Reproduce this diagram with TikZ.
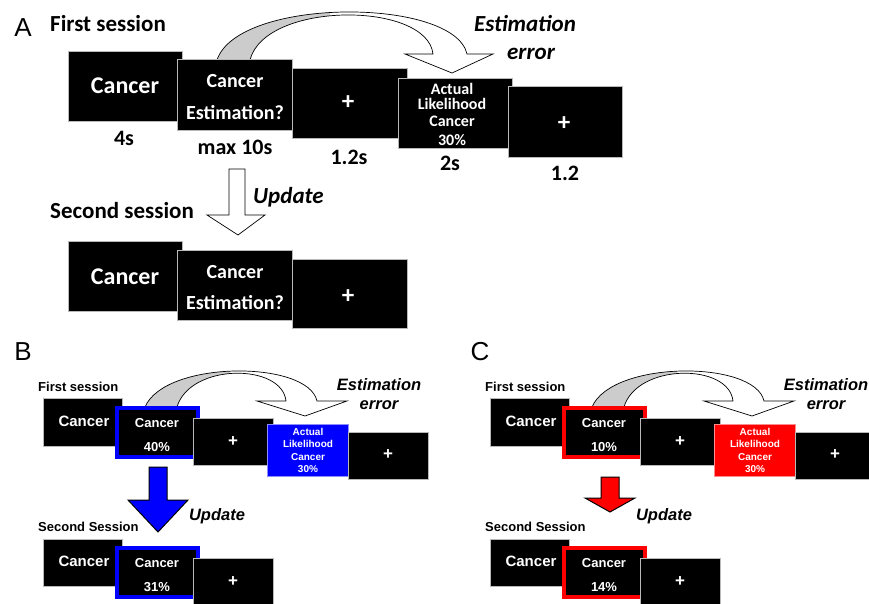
\documentclass[tikz,border=0pt]{standalone}
\usepackage{fontspec}
\setmainfont{Carlito}
\newfontfamily\arialf{Liberation Sans}
\newcommand\fsz[1]{\fontsize{#1}{#1}\selectfont}
\newcommand\bx[6]{\node[#6, minimum width={(#4-#2)*1pt}, minimum height={(#5-#3)*1pt}] (#1) at ({(#2+#4)/2},{(#3+#5)/2}) {};}
\tikzset{
  blk/.style={fill=black, draw=gray!55, line width=0.5pt, inner sep=0pt},
  cbox/.style={fill=black, draw=#1, line width=4.5pt, inner sep=0pt},
  cfill/.style={fill=#1, draw=#1!45, line width=0.8pt, inner sep=0pt},
  tA/.style={text=white, inner sep=0pt, font={\bfseries\fsz{#1}}},
  lA/.style={text=black, inner sep=0pt, font={\bfseries\fsz{#1}}},
  iA/.style={text=black, inner sep=0pt, font={\bfseries\itshape\fsz{#1}}},
  tB/.style={text=white, inner sep=0pt, font={\arialf\bfseries\fsz{#1}}},
  lB/.style={text=black, inner sep=0pt, font={\arialf\bfseries\fsz{#1}}},
  iB/.style={text=black, inner sep=0pt, font={\arialf\bfseries\itshape\fsz{#1}}},
  letter/.style={text=black, inner sep=0pt, font={\arialf\fsz{26}}},
  blockarrow/.style={draw=black, line width=#1, line join=miter},
}
\newcommand\panelBC[5]{%
  % #1 prefix, #2 colour, #3 first estimate, #4 second estimate, #5 gray clip x
  \begin{scope}
    \clip (#5,340) rectangle (0,440);
    \fill[gray!40] (145,407) .. controls (165,360) and (308,360) .. (317,401) -- (347,401) -- (305,416) -- (257,401) -- (286,401) .. controls (282,363) and (190,363) .. (177,407) -- cycle;
  \end{scope}
  \draw[line width=0.7pt, line join=miter] (145,407) .. controls (165,360) and (308,360) .. (317,401) -- (347,401) -- (305,416) -- (257,401) -- (286,401) .. controls (282,363) and (190,363) .. (177,407);
  \node[lB=13, anchor=west] (#1h1) at (38,387) {First session};
  \node[iB=16.5] (#1e1) at (379,385) {Estimation};
  \node[iB=16.5] (#1e2) at (379,405) {error};
  \bx{#1b1}{43}{398}{122}{446}{blk}
  \bx{#1b2}{117}{408}{198}{457}{cbox=#2}
  \bx{#1b3}{193}{418}{273}{465}{blk}
  \bx{#1b4}{267}{424}{348}{476}{cfill=#2}
  \bx{#1b5}{348}{432}{428}{479}{blk}
  \node[tB=15] (#1b1t) at (84,421) {Cancer};
  \node[tB=13] (#1b2t) at (157,423) {Cancer};
  \node[tB=13] (#1b2p) at (157,447) {#3\%};
  \node[tB=17] (#1b3t) at (233,442) {+};
  \node[tB=10] (#1b4a) at (308,432) {Actual};
  \node[tB=10] (#1b4b) at (308,444) {Likelihood};
  \node[tB=10] (#1b4c) at (308,457) {Cancer};
  \node[tB=10] (#1b4d) at (308,469) {30\%};
  \node[tB=17] (#1b5t) at (388,455) {+};
  \node[lB=13, anchor=west] (#1h2) at (38,527) {Second Session};
  \bx{#1c1}{43}{539}{122}{586}{blk}
  \bx{#1c2}{117}{548}{198}{597}{cbox=#2}
  \bx{#1c3}{193}{558}{273}{607}{blk}
  \node[tB=15] (#1c1t) at (84,561) {Cancer};
  \node[tB=13] (#1c2t) at (157,563) {Cancer};
  \node[tB=13] (#1c2p) at (157,587) {#4\%};
  \node[tB=17] (#1c3t) at (233,582) {+};
  \node[iB=16.5] (#1u) at (217,516) {Update};
}
\begin{document}
\begin{tikzpicture}[x=1pt, y=-1pt]
\useasboundingbox[fill=white] (0,0) rectangle (869,604);

% ---------------- Panel A ----------------
\node[letter] (LA) at (23,28) {A};
\node[lA=23, anchor=west] (Afirst) at (50,24) {First session};
\node[iA=23] (Aest) at (525,24) {Estimation};
\node[iA=23] (Aerr) at (531,54) {error};

\begin{scope}
  \clip (0,0) rectangle (330,80);
  \fill[gray!40] (217,60) .. controls (238,-3) and (454,-3) .. (467,54) -- (493,54) -- (452,73) -- (405,54) -- (433,54) .. controls (427,1) and (265,1) .. (250,60) -- cycle;
\end{scope}
\draw[line width=0.7pt, line join=miter] (217,60) .. controls (238,-3) and (454,-3) .. (467,54) -- (493,54) -- (452,73) -- (405,54) -- (433,54) .. controls (427,1) and (265,1) .. (250,60);

\bx{a1}{68}{51}{182}{121}{blk}
\bx{a2}{177}{59}{292}{130}{blk}
\bx{a3}{292}{68}{407}{138}{blk}
\bx{a4}{398}{78}{512}{148}{blk}
\bx{a5}{508}{86}{622}{157}{blk}
\node[tA=24] (a1t) at (125,86) {Cancer};
\node[tA=20] (a2t1) at (235,81) {Cancer};
\node[tA=20] (a2t2) at (235,113) {Estimation?};
\node[tA=25] (a3t) at (348,103) {+};
\node[tA=16] (a4t1) at (452,89) {Actual};
\node[tA=16] (a4t2) at (452,104) {Likelihood};
\node[tA=16] (a4t3) at (452,121) {Cancer};
\node[tA=16] (a4t4) at (452,140) {30\%};
\node[tA=25] (a5t) at (564,124) {+};
\node[lA=22] (a1l) at (124,138) {4s};
\node[lA=22] (a2l) at (235,147) {max 10s};
\node[lA=22] (a3l) at (349,157) {1.2s};
\node[lA=22] (a4l) at (450,163) {2s};
\node[lA=22] (a5l) at (565,173) {1.2};

\draw[blockarrow=0.7pt, fill=white] (229,169) -- (245,169) -- (245,215) -- (265,215) -- (238,235) -- (207,215) -- (229,215) -- cycle;
\node[iA=23, anchor=west] (Aupd) at (253,197) {Update};
\node[lA=23, anchor=west] (Asecond) at (50,211) {Second session};

\bx{r1}{68}{241}{182}{311}{blk}
\bx{r2}{177}{250}{292}{320}{blk}
\bx{r3}{292}{259}{407}{328}{blk}
\node[tA=24] (r1t) at (125,277) {Cancer};
\node[tA=20] (r2t1) at (235,272) {Cancer};
\node[tA=20] (r2t2) at (235,303) {Estimation?};
\node[tA=25] (r3t) at (348,297) {+};

% ---------------- Panel B ----------------
\node[letter] (LB) at (23,352) {B};
\panelBC{B}{blue}{40}{31}{230}
\draw[blockarrow=1pt, fill=blue] (149,467) -- (167,467) -- (167,500) -- (188,500) -- (158,532) -- (128,500) -- (149,500) -- cycle;

% ---------------- Panel C ----------------
\node[letter] (LC) at (480,352) {C};
\begin{scope}[xshift=447pt]
  \panelBC{C}{red}{10}{14}{230}
\end{scope}
\draw[blockarrow=1pt, fill=red] (601,477) -- (619,477) -- (619,498) -- (635,498) -- (610,512) -- (585,498) -- (601,498) -- cycle;
\end{tikzpicture}
\end{document}
